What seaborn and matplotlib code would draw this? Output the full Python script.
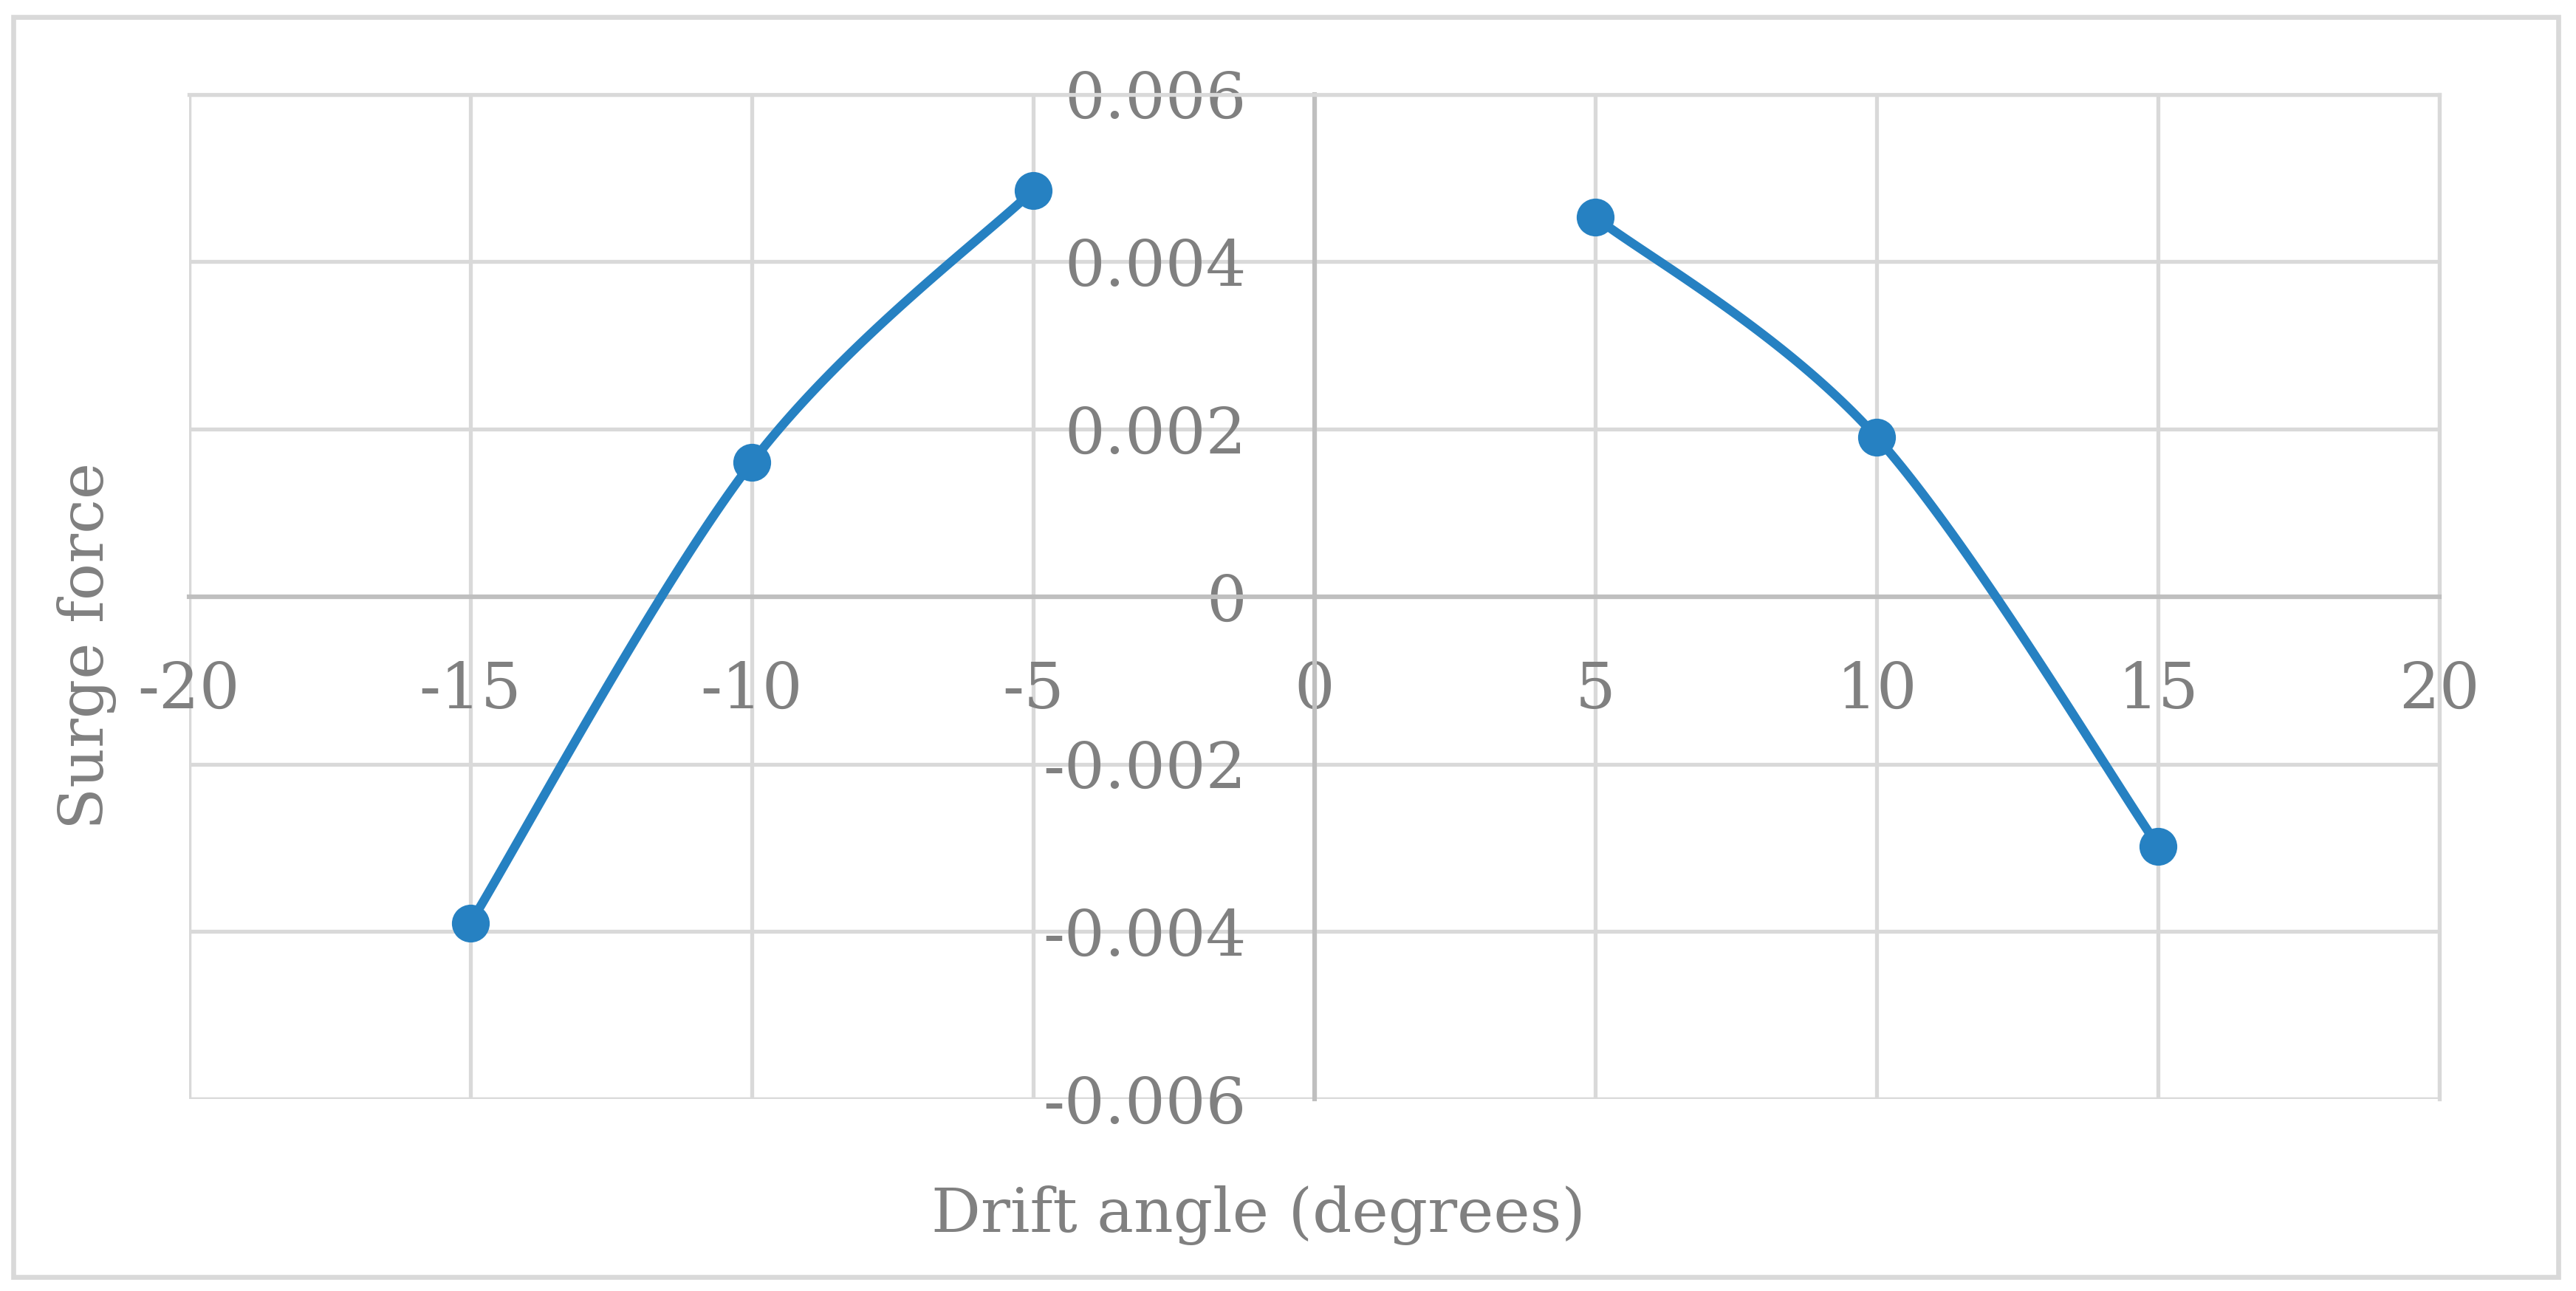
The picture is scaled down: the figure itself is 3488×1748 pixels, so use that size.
import numpy as np
import pandas as pd
import matplotlib
matplotlib.use("Agg")
import matplotlib.pyplot as plt
from matplotlib.patches import Rectangle
import seaborn as sns

# ---- data ----
seg_left_x = [-15, -10, -5]
seg_left_y = [-0.0039, 0.0016, 0.00485]
seg_right_x = [5, 10, 15]
seg_right_y = [0.00453, 0.0019, -0.00298]

x_ticks = [-20, -15, -10, -5, 0, 5, 10, 15, 20]
y_ticks = [-0.006, -0.004, -0.002, 0, 0.002, 0.004, 0.006]
y_tick_labels = ["-0.006", "-0.004", "-0.002", "0", "0.002", "0.004", "0.006"]
x_label = "Drift angle (degrees)"
y_label = "Surge force"

LINE = "#2681c2"
TXT = "#808080"
GRID = "#d9d9d9"
AXL = "#bfbfbf"


def excel_smooth(xs, ys, n=60):
    """Catmull-Rom style Bezier smoothing like Excel's smoothed line."""
    p = np.column_stack([xs, ys]).astype(float)
    ext = np.vstack([p[0], p, p[-1]])
    out = []
    for i in range(1, len(ext) - 2):
        p0, p1, p2, p3 = ext[i - 1], ext[i], ext[i + 1], ext[i + 2]
        b1 = p1 + (p2 - p0) / 6.0
        b2 = p2 - (p3 - p1) / 6.0
        t = np.linspace(0, 1, n)[:, None]
        seg = ((1 - t) ** 3) * p1 + 3 * ((1 - t) ** 2) * t * b1 + 3 * (1 - t) * t ** 2 * b2 + t ** 3 * p2
        out.append(seg if i == 1 else seg[1:])
    c = np.vstack(out)
    return c[:, 0], c[:, 1]


sns.set_theme(style="white")
plt.rcParams["font.family"] = ["DejaVu Serif"]

fig = plt.figure(figsize=(17.44, 8.74), dpi=200)
ax = fig.add_axes([0.0734, 0.1487, 0.947 - 0.0734, 0.927 - 0.1487])

frames = []
for sid, (xs, ys) in enumerate([(seg_left_x, seg_left_y), (seg_right_x, seg_right_y)]):
    cx, cy = excel_smooth(xs, ys)
    frames.append(pd.DataFrame({"x": cx, "y": cy, "seg": sid}))
curve = pd.concat(frames, ignore_index=True)
pts = pd.DataFrame({"x": seg_left_x + seg_right_x, "y": seg_left_y + seg_right_y})

for sid, g in curve.groupby("seg"):
    sns.lineplot(data=g, x="x", y="y", ax=ax, color=LINE, linewidth=4.4,
                 sort=False, estimator=None, zorder=3)
sns.scatterplot(data=pts, x="x", y="y", ax=ax, color=LINE, s=340,
                edgecolor=LINE, linewidth=0, zorder=4)

ax.set_xlim(-20, 20)
ax.set_ylim(-0.006, 0.006)
ax.set_xticks(x_ticks)
ax.set_yticks(y_ticks)
ax.set_yticklabels(y_tick_labels)
ax.set_xticklabels([str(v) for v in x_ticks])

ax.grid(True, color=GRID, linewidth=1.9)
ax.set_axisbelow(True)
for s in ["top", "right"]:
    ax.spines[s].set_color(GRID)
    ax.spines[s].set_linewidth(1.9)
ax.spines["left"].set_position(("data", 0))
ax.spines["bottom"].set_position(("data", 0))
ax.spines["left"].set_color(AXL)
ax.spines["bottom"].set_color(AXL)
ax.spines["left"].set_linewidth(2.2)
ax.spines["bottom"].set_linewidth(2.2)
# border lines at the plot edges
ax.axvline(-20, color=GRID, linewidth=1.9, zorder=0)
ax.axhline(-0.006, color=GRID, linewidth=1.9, zorder=0)

ax.tick_params(axis="both", length=0, labelsize=31, labelcolor=TXT)
ax.tick_params(axis="y", pad=33)
ax.tick_params(axis="x", pad=31)
ax.set_xlabel("")
ax.set_ylabel("")

fig.text(1704 / 3488, 1 - 1646 / 1748, x_label, ha="center", va="center",
         fontsize=30, color=TXT)
fig.text(118 / 3488, 1 - 874 / 1748, y_label, ha="center", va="center",
         rotation=90, fontsize=30, color=TXT)

fig.patches.append(Rectangle((18 / 3488, 1 - 1729 / 1748), (3464 - 18) / 3488,
                             (1729 - 23) / 1748, transform=fig.transFigure,
                             fill=False, edgecolor=GRID, linewidth=2.4))

fig.savefig("out.png", dpi=200, facecolor="white")
